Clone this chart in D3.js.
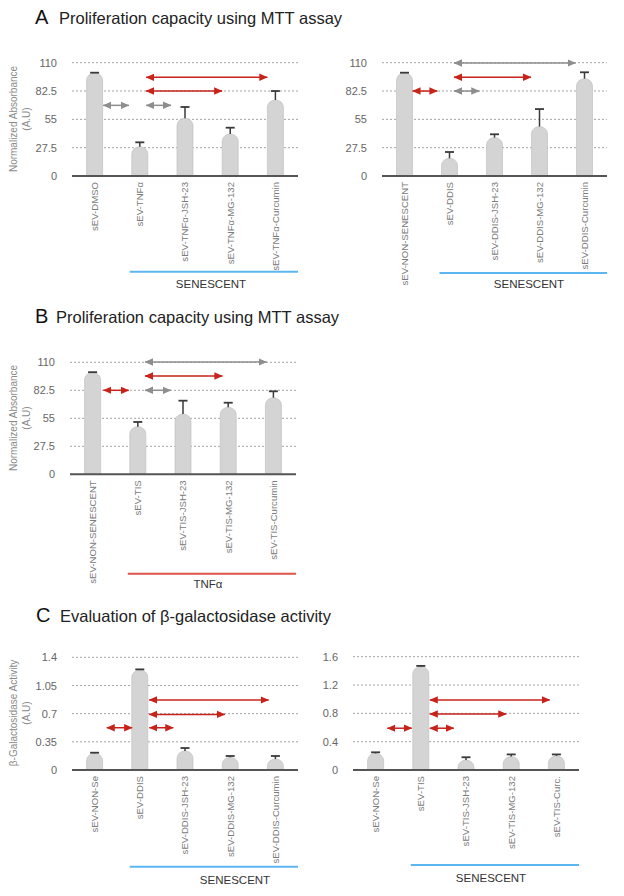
<!DOCTYPE html>
<html><head><meta charset="utf-8">
<script src="https://cdn.jsdelivr.net/npm/d3@7"></script>
<style>body{margin:0;background:#fff}svg{display:block}</style>
</head><body><svg id="c" width="624" height="896"></svg>
<script>
// ---------- DATA ----------
const catsA1 = ["sEV-DMSO","sEV-TNFα","sEV-TNFα-JSH-23","sEV-TNFα-MG-132","sEV-TNFα-Curcumin"];
const valsA1 = [100, 28.4, 56, 40.8, 73.8];
const errA1  = [0.3, 4.3, 11, 6.1, 8.7];
const arrowsA1 = [[0.19,0.76,68.6,"gray"],[1.14,1.69,68.6,"gray"],[1.14,3.82,95.8,"red"],[1.14,2.82,82.5,"red"]];

const catsA2 = ["sEV-NON-SENESCENT","sEV-DDIS","sEV-DDIS-JSH-23","sEV-DDIS-MG-132","sEV-DDIS-Curcumin"];
const valsA2 = [100, 17.2, 37.3, 48, 94.5];
const errA2  = [0.3, 6.1, 3.2, 17, 6.2];
const arrowsA2 = [[0.18,0.73,82.5,"red"],[1.1,1.66,82.5,"gray"],[1.1,2.81,95.8,"red"],[1.1,3.8,109.7,"gray"]];

const catsB = ["sEV-NON-SENESCENT","sEV-TIS","sEV-TIS-JSH-23","sEV-TIS-MG-132","sEV-TIS-Curcumin"];
const valsB = [100, 46.8, 59.2, 65.8, 75.2];
const errB  = [0.3, 4.6, 13.1, 4.5, 6.3];
const arrowsB = [[0.24,0.8,82.5,"red"],[1.16,1.73,82.5,"gray"],[1.16,2.87,96.6,"red"],[1.16,3.85,110.3,"gray"]];

const catsC1 = ["sEV-NON-Se","sEV-DDIS","sEV-DDIS-JSH-23","sEV-DDIS-MG-132","sEV-DDIS-Curcumin"];
const valsC1 = [0.207, 1.242, 0.236, 0.158, 0.137];
const errC1  = [0.008, 0.008, 0.037, 0.016, 0.037];
const arrowsC1 = [[1.21,3.85,0.87,"red"],[1.21,2.88,0.69,"red"],[0.27,0.83,0.525,"red"],[1.21,1.74,0.525,"red"]];

const catsC2 = ["sEV-NON-Se","sEV-TIS","sEV-TIS-JSH-23","sEV-TIS-MG-132","sEV-TIS-Curc."];
const valsC2 = [0.235, 1.46, 0.14, 0.19, 0.2];
const errC2  = [0.015, 0.01, 0.04, 0.03, 0.02];
const arrowsC2 = [[1.2,3.85,0.99,"red"],[1.2,2.89,0.79,"red"],[0.26,0.8,0.59,"red"],[1.2,1.73,0.59,"red"]];

const ticksMTT = [0, 27.5, 55, 82.5, 110];
const ticksC1 = [0, 0.35, 0.7, 1.05, 1.4];
const ticksC2 = [0, 0.4, 0.8, 1.2, 1.6];

const titles = [
  ["A","Proliferation capacity using MTT assay"],
  ["B","Proliferation capacity using MTT assay"],
  ["C","Evaluation of β-galactosidase activity"]
];

// ---------- STYLE ----------
const FONT = "'Liberation Sans', Arial, Helvetica, sans-serif";
const COL = {gray:"#8e8e8e", red:"#c8231b", blue:"#5cb6ef", redLine:"#e0524a",
  bar:"#d4d4d4", barStroke:"#bcbcbc", err:"#3a3a3a", grid:"#9a9a9a", axis:"#555"};

const svg = d3.select("#c");
svg.append("rect").attr("width",624).attr("height",896).attr("fill","#fff");

const defs = svg.append("defs");
["gray","red"].forEach(k=>{
  defs.append("marker").attr("id","ah-"+k)
    .attr("viewBox","0 0 8 8").attr("refX",7.5).attr("refY",4)
    .attr("markerWidth",8.5).attr("markerHeight",8.5)
    .attr("markerUnits","userSpaceOnUse")
    .attr("orient","auto-start-reverse")
    .append("path").attr("d","M0,0.5 L8,4 L0,7.5 Z").attr("fill",COL[k]);
});

// Titles
const titlePos = [[35,59,24],[35,56,323],[36,60,622]];
titles.forEach((t,i)=>{
  const [lx,tx,by] = titlePos[i];
  svg.append("text").attr("x",lx).attr("y",by).text(t[0])
    .attr("font-family",FONT).attr("font-size",20).attr("fill","#111");
  svg.append("text").attr("x",tx).attr("y",by).text(t[1])
    .attr("font-family",FONT).attr("font-size",16.5).attr("fill","#222");
});

function drawPanel(p){
  const g = svg.append("g");
  const x = d3.scaleBand().domain(p.cats).range([p.x0,p.x1])
    .paddingInner(0.645).paddingOuter(0.3225);
  const bw = x.bandwidth();
  const idx = d3.scaleLinear().domain([0,1]).range([x(p.cats[0])+bw/2, x(p.cats[1])+bw/2]);
  const y = d3.scaleLinear().domain([0, p.ticks[p.ticks.length-1]]).range([p.yBase, p.yTop]);

  // gridlines
  g.selectAll("line.grid").data(p.ticks.slice(1)).join("line")
    .attr("x1",p.x0).attr("x2",p.x1).attr("y1",d=>y(d)).attr("y2",d=>y(d))
    .attr("stroke",COL.grid).attr("stroke-width",0.9).attr("stroke-dasharray","2,2");

  // y axis tick labels
  const ax = g.append("g").attr("transform",`translate(${p.x0},0)`)
    .call(d3.axisLeft(y).tickValues(p.ticks).tickSize(0).tickPadding(15).tickFormat(d3.format("~g")));
  ax.select(".domain").remove();
  ax.selectAll("text").attr("font-family",FONT).attr("font-size",11).attr("fill","#666");

  // bars (rounded tops)
  g.selectAll("path.bar").data(p.vals).join("path")
    .attr("d",(d,i)=>{
      const bx = x(p.cats[i]), top = y(d), base = y(0);
      const h = base - top, rx = bw/2, ry = Math.min(bw*0.45, h);
      return `M${bx},${base}V${top+ry}A${rx},${ry} 0 0 1 ${bx+bw},${top+ry}V${base}Z`;
    })
    .attr("fill",COL.bar).attr("stroke",COL.barStroke).attr("stroke-width",0.6);

  // error bars
  p.vals.forEach((v,i)=>{
    const cx = x(p.cats[i])+bw/2;
    g.append("line").attr("x1",cx).attr("x2",cx).attr("y1",y(v)).attr("y2",y(v+p.err[i]))
      .attr("stroke",COL.err).attr("stroke-width",1.5);
    g.append("line").attr("x1",cx-4.5).attr("x2",cx+4.5).attr("y1",y(v+p.err[i])).attr("y2",y(v+p.err[i]))
      .attr("stroke",COL.err).attr("stroke-width",1.8);
  });

  // axis baseline
  g.append("line").attr("x1",p.x0).attr("x2",p.x1).attr("y1",y(0)).attr("y2",y(0))
    .attr("stroke",COL.axis).attr("stroke-width",2);

  // arrows
  p.arrows.forEach(a=>{
    g.append("line").attr("x1",idx(a[0])).attr("x2",idx(a[1])).attr("y1",y(a[2])).attr("y2",y(a[2]))
      .attr("stroke",COL[a[3]]).attr("stroke-width",1.5)
      .attr("marker-start",`url(#ah-${a[3]})`).attr("marker-end",`url(#ah-${a[3]})`);
  });

  // x labels
  g.selectAll("text.xl").data(p.cats).join("text")
    .attr("transform",d=>`translate(${x(d)+bw/2},${y(0)+6}) rotate(-90)`)
    .attr("text-anchor","end").attr("dy","0.35em")
    .attr("font-family",FONT).attr("font-size",9.6).attr("fill","#7a7a7a").text(d=>d);

  // y label
  if(p.ylabel){
    p.ylabel.forEach((t,k)=>{
      g.append("text").attr("transform",`translate(${13+k*13},${p.ylabY}) rotate(-90)`)
        .attr("text-anchor","middle").attr("dy","0.35em")
        .attr("font-family",FONT).attr("font-size",10).attr("fill","#8a8a8a").text(t);
    });
  }

  // group bracket
  const gr = p.group;
  g.append("line").attr("x1",x(p.cats[1])-2).attr("x2",p.x1).attr("y1",gr.lineY).attr("y2",gr.lineY)
    .attr("stroke",gr.color).attr("stroke-width",2);
  g.append("text").attr("x",gr.textX).attr("y",gr.textY).attr("text-anchor","middle")
    .attr("font-family",FONT).attr("font-size",11.5).attr("fill","#333").text(gr.text);
}

drawPanel({cats:catsA1, vals:valsA1, err:errA1, arrows:arrowsA1, ticks:ticksMTT,
  x0:72, x1:298, yBase:176, yTop:62.7, ylabel:["Normalized Absorbance","(A.U)"], ylabY:119,
  group:{text:"SENESCENT", lineY:271.7, textX:211, textY:288, color:COL.blue}});
drawPanel({cats:catsA2, vals:valsA2, err:errA2, arrows:arrowsA2, ticks:ticksMTT,
  x0:382, x1:607, yBase:176, yTop:62.7, ylabel:null,
  group:{text:"SENESCENT", lineY:273, textX:529, textY:288, color:COL.blue}});
drawPanel({cats:catsB, vals:valsB, err:errB, arrows:arrowsB, ticks:ticksMTT,
  x0:70, x1:296, yBase:474.3, yTop:362.3, ylabel:["Normalized Absorbance","(A.U)"], ylabY:418,
  group:{text:"TNFα", lineY:573.7, textX:208, textY:588, color:COL.redLine}});
drawPanel({cats:catsC1, vals:valsC1, err:errC1, arrows:arrowsC1, ticks:ticksC1,
  x0:72, x1:298, yBase:770, yTop:657.3, ylabel:["β-Galactosidase Activity","(A.U)"], ylabY:713,
  group:{text:"SENESCENT", lineY:866.7, textX:235, textY:884, color:COL.blue}});
drawPanel({cats:catsC2, vals:valsC2, err:errC2, arrows:arrowsC2, ticks:ticksC2,
  x0:353, x1:579, yBase:770, yTop:656.7, ylabel:null,
  group:{text:"SENESCENT", lineY:865, textX:491, textY:882, color:COL.blue}});
</script>
</body></html>
